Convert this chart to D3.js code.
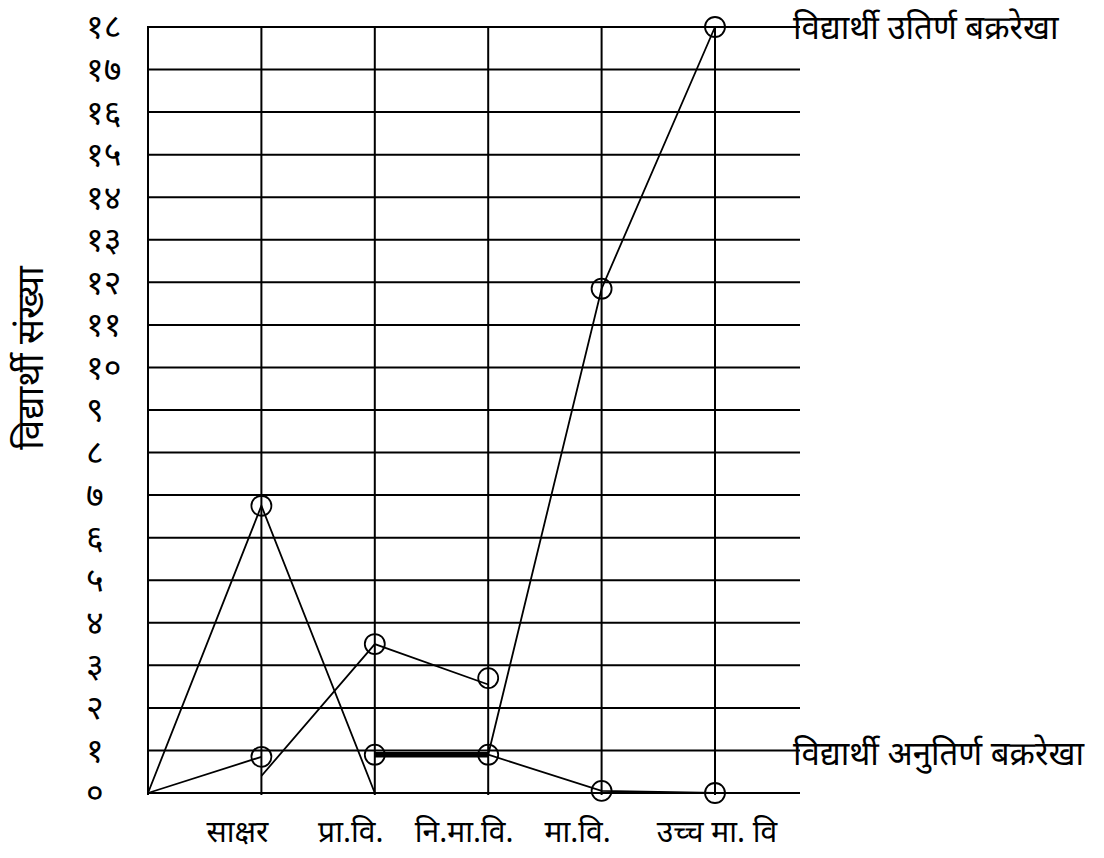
<!DOCTYPE html>
<html>
<head>
<meta charset="utf-8">
<script src="https://cdn.jsdelivr.net/npm/d3@7"></script>
<style>
  html, body { margin: 0; padding: 0; background: #fff; }
  svg text { font-family: "Noto Sans Devanagari", "Lohit Devanagari", "Mukta", "Noto Sans", sans-serif; fill: #000; }
</style>
</head>
<body>
<svg id="chart" width="1104" height="858"></svg>
<script>
// ---- data ----
const categories = ["", "साक्षर", "प्रा.वि.", "नि.मा.वि.", "मा.वि.", "उच्च मा. वि"];
const yTickValues = d3.range(0, 19);
const yTickLabels = ["०","१","२","३","४","५","६","७","८","९","१०","११","१२","१३","१४","१५","१६","१७","१८"];
const yTitle = "विद्यार्थी संख्या";
const passedLabel = "विद्यार्थी उतिर्ण बक्ररेखा";
const failedLabel = "विद्यार्थी अनुतिर्ण बक्ररेखा";

// passed curve (उतिर्ण), drawn in pieces as in the hand-made original
const passedPartA = [0, 6.75, 0];          // start → साक्षर → प्रा.वि.
const passedBold = [0.9, 0.9];             // प्रा.वि. → नि.मा.वि. (thick)
const passedPartB = [0.9, 11.85, 18];      // नि.मा.वि. → मा.वि. → उच्च मा. वि
const passedMarkers = [6.75, 0.9, 0.9, 11.85, 18];   // at categories 1..5

// failed curve (अनुतिर्ण)
const failedPartA = [0, 0.85];             // start → साक्षर
const failedPartB = [0.4, 3.5, 2.55];      // साक्षर → प्रा.वि. → नि.मा.वि.
const failedPartC = [0.9, 0.05, 0];        // नि.मा.वि. → मा.वि. → उच्च मा. वि
const failedMarkers = [0.85, 3.5, 2.7, 0.05, 0];     // at categories 1..5

// ---- layout ----
const svg = d3.select("#chart");
const x = d3.scaleLinear().domain([0, categories.length - 1]).range([148, 715]);
const y = d3.scaleLinear().domain([0, 18]).range([793, 27]);
const gridRight = 800;

// horizontal grid lines
svg.append("g").selectAll("line").data(yTickValues).join("line")
  .attr("x1", x(0)).attr("x2", gridRight)
  .attr("y1", d => y(d)).attr("y2", d => y(d))
  .attr("stroke", "#000").attr("stroke-width", 2);

// vertical grid lines
svg.append("g").selectAll("line").data(d3.range(categories.length)).join("line")
  .attr("x1", d => x(d)).attr("x2", d => x(d))
  .attr("y1", y(18) - 1).attr("y2", y(0) + 2)
  .attr("stroke", "#000").attr("stroke-width", 2);

// y axis tick labels
const yAxis = d3.axisLeft(y).tickValues(yTickValues)
  .tickFormat(d => yTickLabels[d]).tickSize(0);
const gy = svg.append("g").attr("transform", `translate(${x(0)},0)`).call(yAxis);
gy.select(".domain").remove();
gy.selectAll("text")
  .attr("x", -62).attr("text-anchor", "start")
  .attr("dy", "0.32em")
  .style("font-size", "34px");

// y title
svg.append("text")
  .attr("transform", `translate(43,358) rotate(-90)`)
  .attr("text-anchor", "middle")
  .style("font-size", "37px")
  .text(yTitle);

// x category labels
svg.append("g").selectAll("text").data(categories.slice(1)).join("text")
  .attr("x", (d, i) => x(i + 1) + (i === categories.length - 2 ? 2 : -24))
  .attr("y", 842)
  .attr("text-anchor", "middle")
  .style("font-size", "30px")
  .text(d => d);

// lines
const line = d3.line().x(d => x(d[0])).y(d => y(d[1]));
function drawPart(values, startIndex, width) {
  svg.append("path")
    .datum(values.map((v, i) => [startIndex + i, v]))
    .attr("d", line)
    .attr("fill", "none")
    .attr("stroke", "#000")
    .attr("stroke-width", width);
}
drawPart(passedPartA, 0, 1.8);
drawPart(passedBold, 2, 5.5);
drawPart(passedPartB, 3, 1.8);
drawPart(failedPartA, 0, 1.8);
drawPart(failedPartB, 1, 1.8);
drawPart(failedPartC, 3, 1.8);

// markers
function drawMarkers(values) {
  svg.append("g").selectAll("circle").data(values).join("circle")
    .attr("cx", (d, i) => x(i + 1))
    .attr("cy", d => y(d))
    .attr("r", 10)
    .attr("fill", "none")
    .attr("stroke", "#000")
    .attr("stroke-width", 1.8);
}
drawMarkers(passedMarkers);
drawMarkers(failedMarkers);

// curve labels
svg.append("text").attr("x", 793).attr("y", y(18)).attr("dy", "0.35em")
  .style("font-size", "33px").text(passedLabel);
svg.append("text").attr("x", 793).attr("y", y(1) + 3).attr("dy", "0.35em")
  .style("font-size", "33px").text(failedLabel);
</script>
</body>
</html>
